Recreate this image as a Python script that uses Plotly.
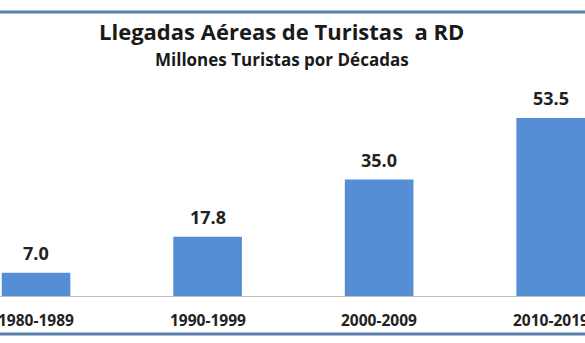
import plotly.graph_objects as go

categories = ["1980-1989", "1990-1999", "2000-2009", "2010-2019"]
values = [7.0, 17.8, 35.0, 53.5]
value_labels = ["7.0", "17.8", "35.0", "53.5"]
title_text = "Llegadas Aéreas de Turistas  a RD"
subtitle_text = "Millones Turistas por Décadas"

BAR = "#558ED5"
LINE = "#5B7FAE"
FONT = "Open Sans"

fig = go.Figure()
fig.add_trace(go.Bar(
    x=list(range(len(categories))), y=values,
    marker=dict(color=BAR, line=dict(width=0)),
    width=0.4, hoverinfo="skip",
))

annotations = []
for i, (v, t) in enumerate(zip(values, value_labels)):
    annotations.append(dict(
        x=i, y=v, xref="x", yref="y", text=t, showarrow=False,
        yanchor="bottom", yshift=6,
        font=dict(family=FONT, size=18, color="#222222", weight="bold"),
    ))

# category labels (drawn as annotations; the outer two run off the edges as in the reference)
for i, c in enumerate(categories):
    annotations.append(dict(
        x=i, y=-0.111, xref="x", yref="paper", text=c, showarrow=False,
        xanchor="center", yanchor="middle",
        font=dict(family=FONT, size=15.5, color="#222222", weight="bold"),
    ))

annotations.append(dict(
    x=0.482, y=1.227, xref="paper", yref="paper", text=title_text,
    showarrow=False, xanchor="center", yanchor="middle",
    font=dict(family=FONT, size=22, color="#1a1a1a", weight="bold"),
))
annotations.append(dict(
    x=0.482, y=1.093, xref="paper", yref="paper", text=subtitle_text,
    showarrow=False, xanchor="center", yanchor="middle",
    font=dict(family=FONT, size=17, color="#1a1a1a", weight="bold"),
))

shapes = [
    dict(type="line", xref="paper", yref="paper", x0=0, x1=1, y0=1.315, y1=1.315,
         line=dict(color=LINE, width=3)),
    dict(type="line", xref="paper", yref="paper", x0=0, x1=1, y0=-0.176, y1=-0.176,
         line=dict(color=LINE, width=3)),
]

fig.update_layout(
    width=585, height=343,
    margin=dict(l=0, r=0, t=80, b=47),
    paper_bgcolor="white", plot_bgcolor="white",
    showlegend=False,
    annotations=annotations,
    shapes=shapes,
    xaxis=dict(
        range=[-0.21, 3.20],
        showticklabels=False,
        showline=True, linecolor="#BFBFBF", linewidth=1,
        showgrid=False, zeroline=False, ticks="",
        fixedrange=True,
    ),
    yaxis=dict(
        range=[0, 64.9], visible=False, showgrid=False, zeroline=False,
        fixedrange=True,
    ),
)

fig.write_html("out.html", config={"displayModeBar": False})
